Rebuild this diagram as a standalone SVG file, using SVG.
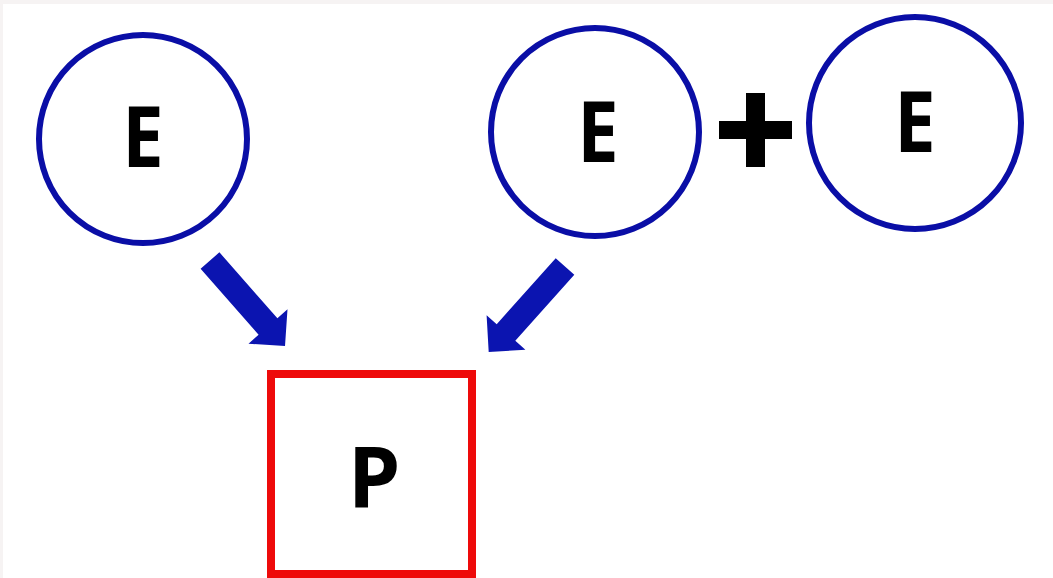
<svg xmlns="http://www.w3.org/2000/svg" width="1053" height="578" viewBox="0 0 1053 578">
<style>
.c{fill:#ffffff;stroke:#0a0ea6;stroke-width:6}
.t{font-family:"Open Sans","Liberation Sans",sans-serif;font-weight:bold;font-size:84px;fill:#000;text-anchor:middle}
.a{fill:#0b14b0}
</style>
<rect width="1053" height="578" fill="#f6f3f3"/>
<rect x="3" y="4" width="1050" height="574" fill="#ffffff"/>
<g id="e1"><circle class="c" cx="143" cy="139" r="104"/><text class="t" x="143" y="167" transform="translate(143 0) scale(0.88 1) translate(-143 0)">E</text></g>
<g id="e2"><circle class="c" cx="595" cy="132" r="104"/><text class="t" x="598" y="162" transform="translate(598 0) scale(0.88 1) translate(-598 0)">E</text></g>
<g id="plus"><rect x="719" y="121" width="73" height="18" fill="#000"/><rect x="746" y="93" width="19" height="74" fill="#000"/></g>
<g id="e3"><circle class="c" cx="915" cy="123" r="106"/><text class="t" x="915" y="152" transform="translate(915 0) scale(0.88 1) translate(-915 0)">E</text></g>
<g id="p"><rect x="271" y="374" width="201" height="200" fill="#fff" stroke="#ee0a0a" stroke-width="8"/><text class="t" x="374" y="507">P</text></g>
<g id="connectors">
<polygon class="a" points="219.4,252.3 200.6,268.8 258.6,334.8 248.5,343.7 285,346 287.5,309.3 277.4,318.3"/>
<polygon class="a" points="574.3,274.8 555.7,258.2 496.7,324.2 486.6,315.2 488.7,351.9 525.4,349.8 515.3,340.8"/>
</g>
</svg>
